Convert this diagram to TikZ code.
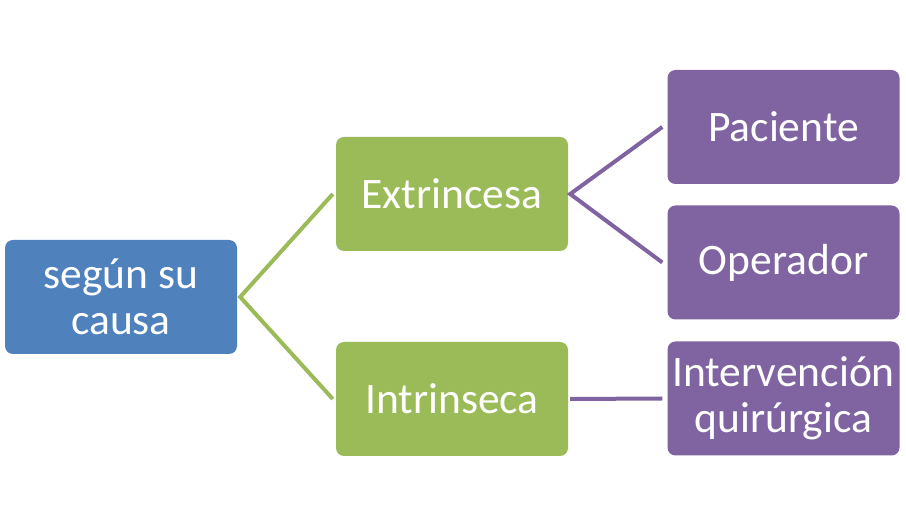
\documentclass[tikz,border=0pt]{standalone}
\usepackage{fontspec}
\setmainfont{Carlito}
\definecolor{azul}{HTML}{4F81BD}
\definecolor{verde}{HTML}{9BBB59}
\definecolor{morado}{HTML}{8064A2}
\tikzset{
    caja/.style={rounded corners=8pt, minimum width=232pt, minimum height=114pt,
        text=white, align=center, inner sep=0pt, font=\fontsize{43.5}{46}\selectfont},
    rama/.style={line width=4pt}
}
\begin{document}
\begin{tikzpicture}[x=1pt, y=1pt]
    \useasboundingbox (0,0) rectangle (906,525);

    % Cajas
    \node[caja, fill=azul] (causa) at (121,228) {según su\\causa};
    \node[caja, fill=verde] (extr) at (452,331) {Extrincesa};
    \node[caja, fill=verde] (intr) at (452,126) {Intrinseca};
    \node[caja, fill=morado] (pac) at (783.5,398) {Paciente};
    \node[caja, fill=morado] (ope) at (783.5,262.5) {Operador};
    \node[caja, fill=morado] (interv) at (783.5,126.5) {Intervención\\quirúrgica};

    % Ramas
    \draw[rama, verde] ([xshift=-3pt]extr.west) -- ([xshift=3pt]causa.east) -- ([xshift=-3pt]intr.west);
    \draw[rama, morado] ([xshift=-5pt]pac.west) -- ([xshift=2pt]extr.east) -- ([xshift=-5pt]ope.west);
    \draw[rama, morado] ([xshift=2pt]intr.east) -- ([xshift=-5pt]interv.west);
\end{tikzpicture}
\end{document}
